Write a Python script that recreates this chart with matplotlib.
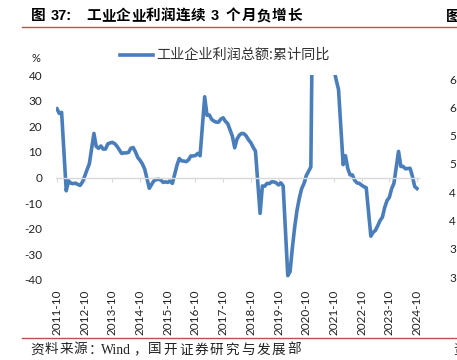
import matplotlib
matplotlib.use("Agg")
import matplotlib.pyplot as plt
import numpy as np
import pandas as pd

plt.rcParams["font.family"] = ["Lato", "Noto Sans CJK SC", "DejaVu Sans"]

# monthly cumulative YoY of industrial profits (%), January not published
dates = pd.date_range("2011-10", "2024-10", freq="MS")
dates = dates[dates.month != 1]
profit_yoy = [
    26.8, 25.0, 25.4,
    -5.2, -1.3, -2.2, -2.4, -2.2, -2.7, -3.1, -1.8, 0.5, 3.0, 5.3,
    17.2, 12.1, 11.4, 12.3, 11.1, 11.1, 13.1, 13.5, 13.7, 13.2, 12.2,
    9.4, 9.6, 9.6, 9.8, 11.4, 11.7, 10.0, 7.8, 6.7, 5.3, 3.3,
    -4.2, -2.7, -1.3, -0.8, -0.7, -1.0, -1.9, -1.7, -1.9, -1.4, -2.3,
    4.8, 7.4, 6.5, 6.4, 6.2, 6.9, 8.4, 8.4, 8.6, 9.4, 8.5,
    31.5, 24.3, 24.4, 22.7, 22.0, 21.6, 21.6, 22.8, 23.3, 21.9, 21.0,
    16.1, 11.6, 15.0, 16.5, 17.2, 17.1, 16.2, 14.7, 13.6, 11.8, 10.3,
    -14.0, -3.3, -3.4, -2.3, -2.4, -1.7, -1.7, -2.1, -2.9, -2.1, -3.3,
    -38.3, -36.7, -27.4, -19.3, -12.8, -8.1, -4.4, -2.4, 0.7, 2.4, 4.1,
    178.9, 137.3, 106.0, 83.4, 66.9, 57.3, 49.5, 44.7, 42.2, 38.0, 34.3,
    5.0, 8.5, 3.5, 1.0, 1.0, -1.1, -2.1, -2.3, -3.0, -3.6, -4.0,
    -22.9, -21.4, -20.6, -18.8, -16.8, -15.5, -11.7, -9.0, -7.8, -4.4, -2.3,
    10.2, 4.3, 4.3, 3.4, 3.5, 3.6, 0.5, -3.5, -4.3,
]
tick_years = list(range(2011, 2025))
y_ticks = [40, 30, 20, 10, 0, -10, -20, -30, -40]
neighbour_labels = ["6", "6", "5", "5", "4", "4", "3", "3"]

# title / source are set with wide letter spacing: (text piece, left px)
title_parts = [("图", 31), ("37:", 51)] \
    + [(c, 86 + 15 * i) for i, c in enumerate("工业企业利润连续")] \
    + [("3", 211)] + [(c, 226 + 15.2 * i) for i, c in enumerate("个月负增长")]
source_parts = [(c, 30 + 14.6 * i) for i, c in enumerate("资料来源：")] \
    + [("Wind", 101), ("，", 133)] \
    + [(c, 148 + 15.5 * i) for i, c in enumerate("国开证券研究与发展部")]
series_name = "工业企业利润总额:累计同比"

W, H = 457, 360
fig = plt.figure(figsize=(W / 100, H / 100), dpi=100)

x = (dates.year - 2011) * 12 + dates.month - 10
px_per_month = 360 / 156
left_px, right_px = 56, 419
ax = fig.add_axes([left_px / W, (H - 280) / H, (right_px - left_px) / W, 205 / H])
ax.plot(x, profit_yoy, color="#4a7ebb", linewidth=2.6, solid_joinstyle="round")
ax.set_xlim((left_px - 57) / px_per_month, (right_px - 57) / px_per_month)
ax.set_ylim(-40, 40)

for s in ["top", "right", "left"]:
    ax.spines[s].set_visible(False)
ax.spines["bottom"].set_position(("data", 0))
ax.spines["bottom"].set_color("#d9d9d9")
ax.spines["bottom"].set_linewidth(1.0)

tick_pos = [(y - 2011) * 12 for y in tick_years]
ax.set_xticks(tick_pos)
ax.tick_params(axis="x", direction="out", length=3, color="#d9d9d9", labelbottom=False)
ax.set_yticks(y_ticks)
ax.set_yticklabels([str(v) for v in y_ticks])
ax.tick_params(axis="y", length=0, pad=10, labelsize=8.5, labelcolor="#222222")

sec = ax.secondary_xaxis(0)
sec.set_xticks(tick_pos)
sec.set_xticklabels([f"{y}-10" for y in tick_years], rotation=90)
sec.tick_params(length=0, pad=7, labelsize=8.5, labelcolor="#222222")
sec.spines["bottom"].set_visible(False)

# title, legend and source
for txt, px in title_parts:
    fig.text(px / W, 1 - 16 / H, txt, fontsize=10.5, fontweight="bold", va="center", ha="left",
             family=["Liberation Sans", "Noto Sans CJK SC"])
fig.text(446 / W, 1 - 16 / H, "图", fontsize=10.5, fontweight="bold", va="center", ha="left",
         family=["Noto Sans CJK SC"])
fig.add_artist(plt.Line2D([22 / W, 1], [1 - 27 / H] * 2, color="#c0504d", linewidth=1.0))
fig.add_artist(plt.Line2D([22 / W, 1], [1 - 338 / H] * 2, color="#c0504d", linewidth=1.0))

fig.text(32 / W, 1 - 59 / H, "%", fontsize=8, va="center", ha="left", color="#222222")
fig.add_artist(plt.Line2D([120 / W, 153 / W], [1 - 55 / H] * 2, color="#4a7ebb", linewidth=2.6))
fig.text(156 / W, 1 - 55 / H, series_name, fontsize=10.2, va="center", ha="left", color="#333333",
         family=["Noto Sans CJK SC", "DejaVu Sans"])

for txt, px in source_parts:
    fig.text(px / W, 1 - 350 / H, txt, fontsize=9.8, va="center", ha="left", color="#222222",
             family=["Liberation Serif", "Noto Sans CJK SC"])
fig.text(453 / W, 1 - 350 / H, "资", fontsize=9.8, va="center", ha="left", color="#222222",
         family=["Noto Sans CJK SC"])

# edge of the neighbouring chart
for i, lab in enumerate(neighbour_labels):
    fig.text(449 / W, 1 - (80 + i * 28.3) / H, lab, fontsize=8.5, va="center", ha="left",
             color="#222222")

fig.savefig("out.png", dpi=100)
